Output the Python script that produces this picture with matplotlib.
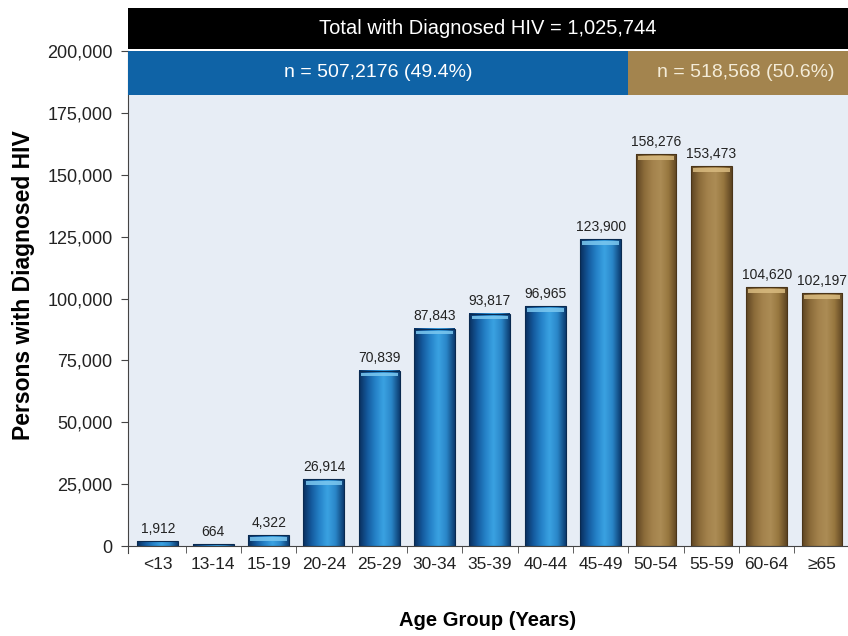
import numpy as np
import matplotlib.pyplot as plt
from matplotlib.colors import LinearSegmentedColormap
from matplotlib.patches import Rectangle
from matplotlib.transforms import blended_transform_factory

# Persons with diagnosed HIV by age group
age_groups = ["<13", "13-14", "15-19", "20-24", "25-29", "30-34", "35-39",
              "40-44", "45-49", "50-54", "55-59", "60-64", "≥65"]
persons = [1912, 664, 4322, 26914, 70839, 87843, 93817,
           96965, 123900, 158276, 153473, 104620, 102197]
value_labels = ["1,912", "664", "4,322", "26,914", "70,839", "87,843", "93,817",
                "96,965", "123,900", "158,276", "153,473", "104,620", "102,197"]
under_50 = 9  # first nine groups are under age 50

total_text = "Total with Diagnosed HIV = 1,025,744"
under_text = "n = 507,2176 (49.4%)"
over_text = "n = 518,568 (50.6%)"

plt.rcParams["font.family"] = ["Liberation Sans", "DejaVu Sans"]

fig = plt.figure(figsize=(8.48, 6.36), dpi=100)
ax = fig.add_axes([0.1509, 0.1415, 0.8491, 0.778])
ax.set_facecolor("#e7edf5")

blue_cmap = LinearSegmentedColormap.from_list(
    "blue_bar", ["#0a2f5e", "#145a9e", "#2582c8", "#3aa2e2", "#2a86c8", "#0c3d72"])
gold_cmap = LinearSegmentedColormap.from_list(
    "gold_bar", ["#5e4522", "#8c6c3a", "#a3824c", "#ac8c55", "#97773f", "#5e4522"])

width = 0.74
x = np.arange(len(age_groups))
grad = np.linspace(0, 1, 64).reshape(1, -1)

for i, v in enumerate(persons):
    cmap = blue_cmap if i < under_50 else gold_cmap
    cap = "#7cc8f0" if i < under_50 else "#d9bb80"
    edge = "#0a2a50" if i < under_50 else "#4a3519"
    ax.imshow(grad, cmap=cmap, aspect="auto", interpolation="bicubic",
              extent=(x[i] - width / 2, x[i] + width / 2, 0, v), zorder=2)
    ax.add_patch(Rectangle((x[i] - width / 2, 0), width, v, fill=False,
                           edgecolor=edge, linewidth=0.8, zorder=3))
    # light rim along the top of each bar
    if v > 3000:
        ax.add_patch(Rectangle((x[i] - width / 2 + 0.04, v - 2200), width - 0.08, 1400,
                               facecolor=cap, edgecolor="none", alpha=0.85, zorder=3))
    ax.annotate(value_labels[i], (x[i], v), xytext=(0, 4), textcoords="offset points",
                ha="center", va="bottom", fontsize=10, color="#222222", zorder=4)

ax.set_xlim(-0.542, 12.47)
ax.set_ylim(0, 200000)
ax.set_yticks(range(0, 200001, 25000))
ax.set_yticklabels([f"{t:,}" for t in range(0, 200001, 25000)], fontsize=13, color="#222222")
ax.set_xticks(x)
ax.set_xticklabels(age_groups, fontsize=12.5, color="#222222")
ax.set_xticks(np.arange(0.5, len(age_groups) - 0.5, 1), minor=True)
ax.tick_params(axis="x", which="major", length=0, pad=8)
ax.tick_params(axis="x", which="minor", length=5, direction="out", color="#444444")
ax.tick_params(axis="y", length=5, direction="out", color="#444444", pad=6)

for side in ["top", "right"]:
    ax.spines[side].set_visible(False)
ax.spines["left"].set_color("#444444")
ax.spines["bottom"].set_color("#444444")
ax.spines["left"].set_bounds(-3000, 200000)

ax.set_xlabel("Age Group (Years)", fontsize=14.5, fontweight="bold", labelpad=28)
ax.set_ylabel("Persons with Diagnosed HIV", fontsize=16.5, fontweight="bold")
ax.yaxis.set_label_coords(-0.129, 0.527)

# header bands: overall total on black, split by age on blue / gold
trans = blended_transform_factory(ax.transData, ax.transAxes)
left, right, split = -0.542, 12.47, under_50 - 0.5
ax.add_patch(Rectangle((left, 1.004), right - left, 0.083, transform=trans,
                       facecolor="black", edgecolor="none", clip_on=False, zorder=5))
ax.add_patch(Rectangle((left, 0.912), split - left, 0.088, transform=trans,
                       facecolor="#0f63a6", edgecolor="none", clip_on=False, zorder=5))
ax.add_patch(Rectangle((split, 0.912), right - split, 0.088, transform=trans,
                       facecolor="#a3844e", edgecolor="none", clip_on=False, zorder=5))
ax.text((left + right) / 2, 1.045, total_text, transform=trans, ha="center", va="center",
        color="white", fontsize=14.5, zorder=6)
ax.text((left + split) / 2, 0.956, under_text, transform=trans, ha="center", va="center",
        color="white", fontsize=14, zorder=6)
ax.text(10.63, 0.956, over_text, transform=trans, ha="center", va="center",
        color="#f4ecd8", fontsize=14, zorder=6)

fig.savefig("out.png", dpi=100)
